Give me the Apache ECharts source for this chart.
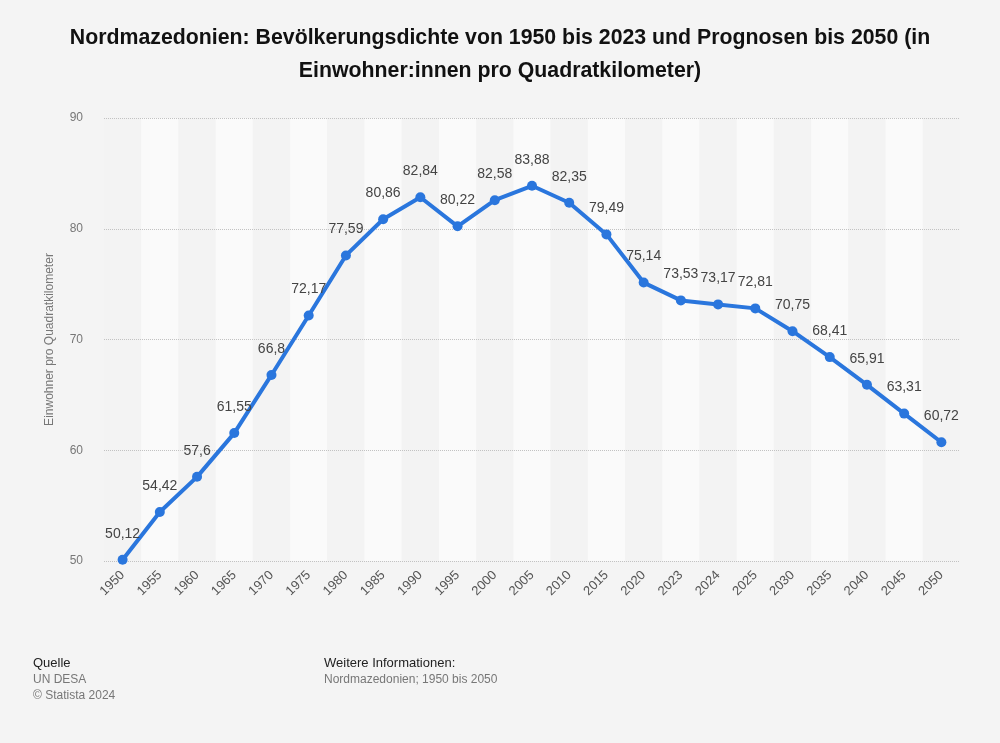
<!DOCTYPE html>
<html>
<head>
<meta charset="utf-8">
<script src="https://cdn.jsdelivr.net/npm/echarts@6/dist/echarts.min.js"></script>
<style>
html,body{margin:0;padding:0;background:#f4f4f4;}
#c{width:1000px;height:743px;}
</style>
</head>
<body>
<div id="c"></div>
<script>
const categories = ['1950','1955','1960','1965','1970','1975','1980','1985','1990','1995','2000','2005','2010','2015','2020','2023','2024','2025','2030','2035','2040','2045','2050'];
const values = [50.12,54.42,57.6,61.55,66.8,72.17,77.59,80.86,82.84,80.22,82.58,83.88,82.35,79.49,75.14,73.53,73.17,72.81,70.75,68.41,65.91,63.31,60.72];
const yTicks = [50,60,70,80,90];
const titleText = 'Nordmazedonien: Bevölkerungsdichte von 1950 bis 2023 und Prognosen bis 2050 (in\nEinwohner:innen pro Quadratkilometer)';
const yAxisName = 'Einwohner pro Quadratkilometer';

const chart = echarts.init(document.getElementById('c'), null, {renderer:'canvas'});
const font = '"Liberation Sans", Arial, sans-serif';
chart.setOption({
  backgroundColor:'#f4f4f4',
  textStyle:{fontFamily:font},
  title:{
    text:titleText,
    left:'center', top:17,
    textStyle:{fontFamily:font,fontSize:21.3,fontWeight:'bold',color:'#111',lineHeight:33}
  },
  grid:{left:104,right:40,top:118,bottom:182},
  xAxis:{
    type:'category',
    z:0,
    data:categories,
    boundaryGap:true,
    axisLine:{show:false},
    axisTick:{show:false},
    axisLabel:{rotate:45,color:'#555',fontSize:13,fontFamily:font,margin:12,interval:0},
    splitArea:{show:true,interval:0,areaStyle:{color:['#f3f3f3','#fafafa']}}
  },
  yAxis:{
    type:'value',
    z:1,
    min:yTicks[0], max:yTicks[yTicks.length-1], interval:10,
    name:yAxisName,
    nameLocation:'middle',
    nameGap:48,
    nameTextStyle:{color:'#777',fontSize:12,fontFamily:font},
    axisLine:{show:false},
    axisTick:{show:false},
    axisLabel:{color:'#777',fontSize:12,fontFamily:font,margin:21},
    splitLine:{lineStyle:{color:'#c2c2c2',type:'dotted',width:1}}
  },
  series:[{
    type:'line',
    data:values,
    color:'#2a76dd',
    lineStyle:{width:4,color:'#2a76dd'},
    symbol:'circle',
    symbolSize:10,
    itemStyle:{color:'#2a76dd'},
    label:{
      show:true,position:'top',distance:14,
      color:'#444',fontSize:14,fontFamily:font,
      formatter:p=>String(p.value).replace('.',',')
    },
    z:3
  }],
  graphic:[
    {type:'text',left:33,top:657,style:{text:'Quelle',fill:'#222',font:'13px '+font}},
    {type:'text',left:33,top:674,style:{text:'UN DESA',fill:'#777',font:'12px '+font}},
    {type:'text',left:33,top:690,style:{text:'© Statista 2024',fill:'#777',font:'12px '+font}},
    {type:'text',left:324,top:657,style:{text:'Weitere Informationen:',fill:'#222',font:'13px '+font}},
    {type:'text',left:324,top:674,style:{text:'Nordmazedonien; 1950 bis 2050',fill:'#777',font:'12px '+font}}
  ]
});
</script>
</body>
</html>
